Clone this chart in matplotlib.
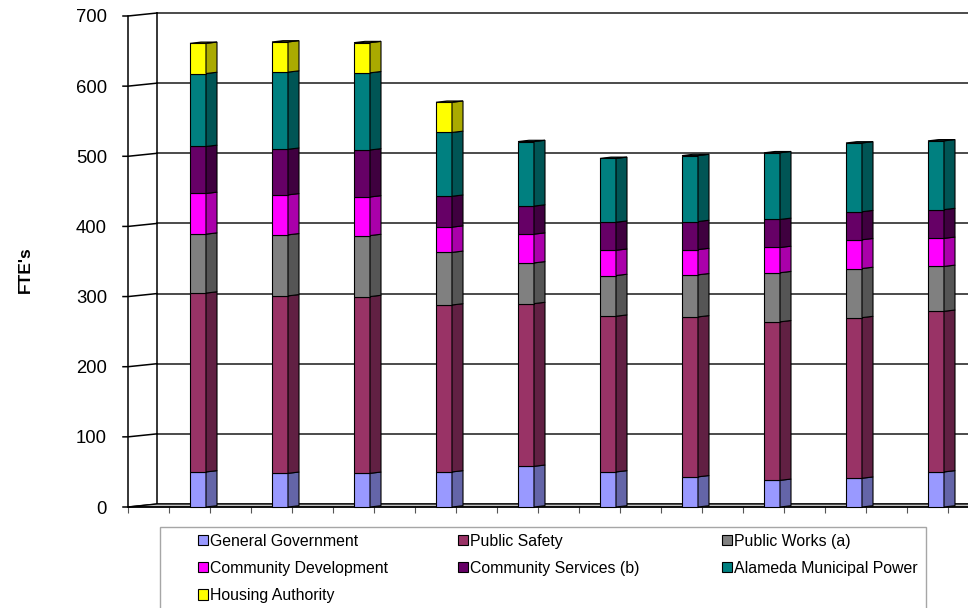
import matplotlib
matplotlib.use("Agg")
import matplotlib.pyplot as plt
from matplotlib.patches import Polygon, Rectangle, Patch
import numpy as np

plt.rcParams['font.family'] = ['Liberation Sans', 'DejaVu Sans']

# FTE's per department, one value per bar (left to right)
series_names = ['General Government', 'Public Safety', 'Public Works (a)',
                'Community Development', 'Community Services (b)',
                'Alameda Municipal Power', 'Housing Authority']
general_government = [50, 48, 48, 50, 58, 50, 43, 38, 41, 50]
public_safety = [255, 253, 252, 238, 232, 222, 228, 226, 229, 229]
public_works = [84, 87, 87, 75, 58, 58, 60, 70, 70, 64]
community_development = [58, 57, 55, 36, 41, 36, 36, 36, 41, 40]
community_services = [67, 65, 67, 44, 40, 40, 40, 40, 40, 41]
alameda_municipal_power = [104, 110, 110, 91, 92, 91, 94, 95, 98, 98]
housing_authority = [43, 43, 43, 43, 0, 0, 0, 0, 0, 0]
y_ticks = [0, 100, 200, 300, 400, 500, 600, 700]

series = [general_government, public_safety, public_works, community_development,
          community_services, alameda_municipal_power, housing_authority]
front_colors = ['#9999FF', '#993366', '#808080', '#FF00FF', '#660066', '#008080', '#FFFF00']
side_colors = ['#6465A8', '#612043', '#555555', '#AA00AA', '#3F003F', '#005555', '#AAAA00']

# layout in pixels (figure is 968 x 608 at dpi 100)
W, H = 968, 608
ax_l, ax_r, ax_t, ax_b = 128, 968, 0, 520
y0_px, ytop_px = 507, 16
sy = (y0_px - ytop_px) / 700.0      # px per FTE
sx = 82.0                           # px per category
first_center = 198

def dx(px):
    return px / sx

def dy(px):
    return px / sy

fig = plt.figure(figsize=(W / 100, H / 100), dpi=100)
ax = fig.add_axes([ax_l / W, (H - ax_b) / H, (ax_r - ax_l) / W, (ax_b - ax_t) / H])
x0 = -(first_center - ax_l) / sx
x1 = (ax_r - first_center) / sx
ax.set_xlim(x0, x1)
ax.set_ylim(-(ax_b - y0_px) / sy, (y0_px - ax_t) / sy)

# back wall: offset of the wall from the front plane
wdx, wdy = dx(29), dy(3)
for v in y_ticks:
    ax.plot([x0 + wdx, x1 + 1], [v + wdy, v + wdy], color='#1a1a1a', lw=1.1, zorder=1, clip_on=False)
    ax.plot([x0 - dx(5), x0, x0 + wdx], [v, v, v + wdy], color='black', lw=1.1, zorder=1, clip_on=False)
ax.plot([x0 + wdx, x0 + wdx], [wdy, 700 + wdy], color='black', lw=1.1, zorder=1)
# floor
ax.add_patch(Polygon([(x0, 0), (x0 + wdx, wdy), (x1 + 1, wdy), (x1 + 1, 0)],
                     closed=True, facecolor='#C0C0C0', edgecolor='black', lw=0.9, zorder=2))

# bars as pseudo 3D columns
w = dx(16)
sdx, sdy = dx(11), dy(1.3)
n = len(general_government)
bottoms = np.zeros(n)
for vals, fc, sc in zip(series, front_colors, side_colors):
    for i in range(n):
        b, t = bottoms[i], bottoms[i] + vals[i]
        if vals[i] <= 0:
            continue
        l, r = i - w / 2, i + w / 2
        ax.add_patch(Polygon([(l, b), (r, b), (r, t), (l, t)], closed=True,
                             facecolor=fc, edgecolor='black', lw=0.8, zorder=3))
        ax.add_patch(Polygon([(r, b), (r + sdx, b + sdy), (r + sdx, t + sdy), (r, t)],
                             closed=True, facecolor=sc, edgecolor='black', lw=0.8, zorder=3))
    bottoms += np.array(vals)

# top faces
for i in range(n):
    top = bottoms[i]
    k = max(j for j in range(len(series)) if series[j][i] > 0)
    l, r = i - w / 2, i + w / 2
    ax.add_patch(Polygon([(l, top), (l + sdx, top + sdy), (r + sdx, top + sdy), (r, top)],
                         closed=True, facecolor=side_colors[k], edgecolor='black', lw=0.8, zorder=4))

# axes
for s in ['top', 'right']:
    ax.spines[s].set_visible(False)
ax.spines['left'].set_bounds(0, 700)
ax.spines['left'].set_linewidth(1.1)
ax.spines['bottom'].set_position(('data', 0))
ax.spines['bottom'].set_linewidth(1.1)
ax.set_yticks(y_ticks)
ax.tick_params(axis='y', length=0, pad=21 / 1.389, labelsize=13.3)
ax.set_xticks(np.arange(x0, x1, 0.5))
ax.set_xticklabels([])
ax.tick_params(axis='x', length=4, width=0.8, direction='out', color='#555555')

fig.text(25 / W, 1 - 270 / H, "FTE's", rotation=90, fontsize=12.5, fontweight='bold',
         ha='center', va='center')

# legend box and three columns
fig.patches.append(Rectangle((160 / W, -0.01), (926 - 160) / W, (608 - 527) / H + 0.01,
                             transform=fig.transFigure, facecolor='white',
                             edgecolor='#A6A6A6', lw=1.0))
handles = [Patch(facecolor=c, edgecolor='black', lw=0.8) for c in front_colors]
columns = [[0, 3, 6], [1, 4], [2, 5]]
col_x = [198, 458, 722]
for idxs, cx in zip(columns, col_x):
    fig.legend([handles[j] for j in idxs], [series_names[j] for j in idxs],
               loc='upper left', bbox_to_anchor=(cx / W, 1 - 534 / H),
               frameon=False, fontsize=11.4, borderpad=0, borderaxespad=0,
               handlelength=0.6, handleheight=0.6, handletextpad=0.15,
               labelspacing=0.76)

fig.savefig('out.png', dpi=100)
